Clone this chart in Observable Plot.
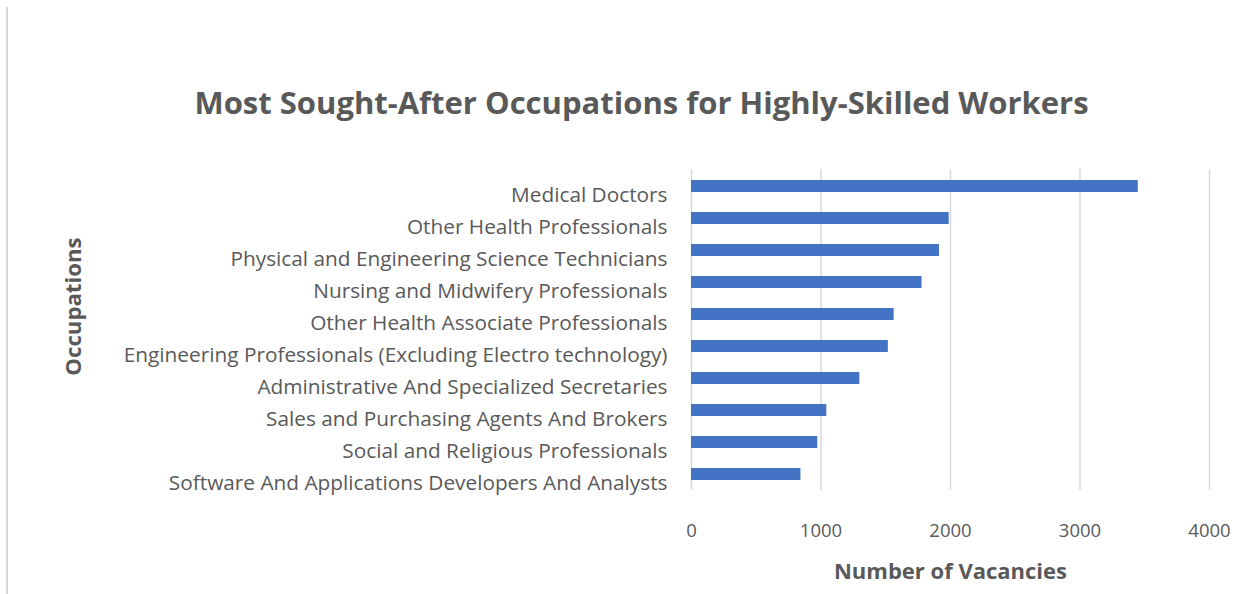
<!DOCTYPE html>
<html>
<head>
<meta charset="utf-8">
<script src="https://cdn.jsdelivr.net/npm/d3@7"></script>
<script src="https://cdn.jsdelivr.net/npm/@observablehq/plot@0.6"></script>
<style>
  html, body { margin: 0; padding: 0; background: #ffffff; }
  #wrap { position: relative; width: 1258px; height: 594px; overflow: hidden; }
  #border { position: absolute; left: 6px; top: 7px; width: 2px; height: 587px; background: #d9d9d9; }
  #chart { position: absolute; left: 0; top: 0; }
</style>
</head>
<body>
<div id="wrap"><div id="chart"></div><div id="border"></div></div>
<script>
const categories = [
  "Medical Doctors",
  "Other Health Professionals",
  "Physical and Engineering Science Technicians",
  "Nursing and Midwifery Professionals",
  "Other Health Associate Professionals",
  "Engineering Professionals (Excluding Electro technology)",
  "Administrative And Specialized Secretaries",
  "Sales and Purchasing Agents And Brokers",
  "Social and Religious Professionals",
  "Software And Applications Developers And Analysts"
];
const vacancies = [3450, 1990, 1915, 1780, 1565, 1520, 1300, 1045, 975, 845];
const xTicks = [0, 1000, 2000, 3000, 4000];
const chartTitle = "Most Sought-After Occupations for Highly-Skilled Workers";
const xTitle = "Number of Vacancies";
const yTitle = "Occupations";

const data = categories.map((c, i) => ({category: c, value: vacancies[i]}));
const textColor = "#595959";

const chart = Plot.plot({
  width: 1258,
  height: 594,
  marginLeft: 691,
  marginRight: 49,
  marginTop: 169,
  marginBottom: 104,
  style: {fontFamily: "'Open Sans', sans-serif", color: textColor, background: "transparent", overflow: "visible"},
  x: {domain: [0, 4000], label: null},
  y: {domain: categories, paddingInner: 0.635, paddingOuter: 0.3175, label: null},
  marks: [
    Plot.gridX(xTicks, {stroke: "#d9d9d9", strokeOpacity: 1, strokeWidth: 1.5}),
    Plot.barX(data, {x: "value", y: "category", fill: "#4472C4"}),
    Plot.axisX(xTicks, {tickSize: 0, tickPadding: 33, fontSize: 18.5, tickFormat: d3.format("d"), label: null, fill: textColor}),
    Plot.axisY({tickSize: 0, tickPadding: 24, fontSize: 20.8, dy: 9, label: null, fill: textColor}),
    Plot.text([chartTitle], {frameAnchor: "top-left", dx: -50, dy: -56, textAnchor: "middle", lineAnchor: "bottom", fontSize: 31, fontWeight: "bold", fill: textColor}),
    Plot.text([xTitle], {frameAnchor: "bottom", dy: 81, textAnchor: "middle", lineAnchor: "middle", fontSize: 22, fontWeight: "bold", fill: textColor}),
    Plot.text([yTitle], {frameAnchor: "left", dx: -618, dy: -23.5, rotate: -90, textAnchor: "middle", lineAnchor: "middle", fontSize: 22.2, fontWeight: "bold", fill: textColor})
  ]
});
document.getElementById("chart").appendChild(chart);
</script>
</body>
</html>
